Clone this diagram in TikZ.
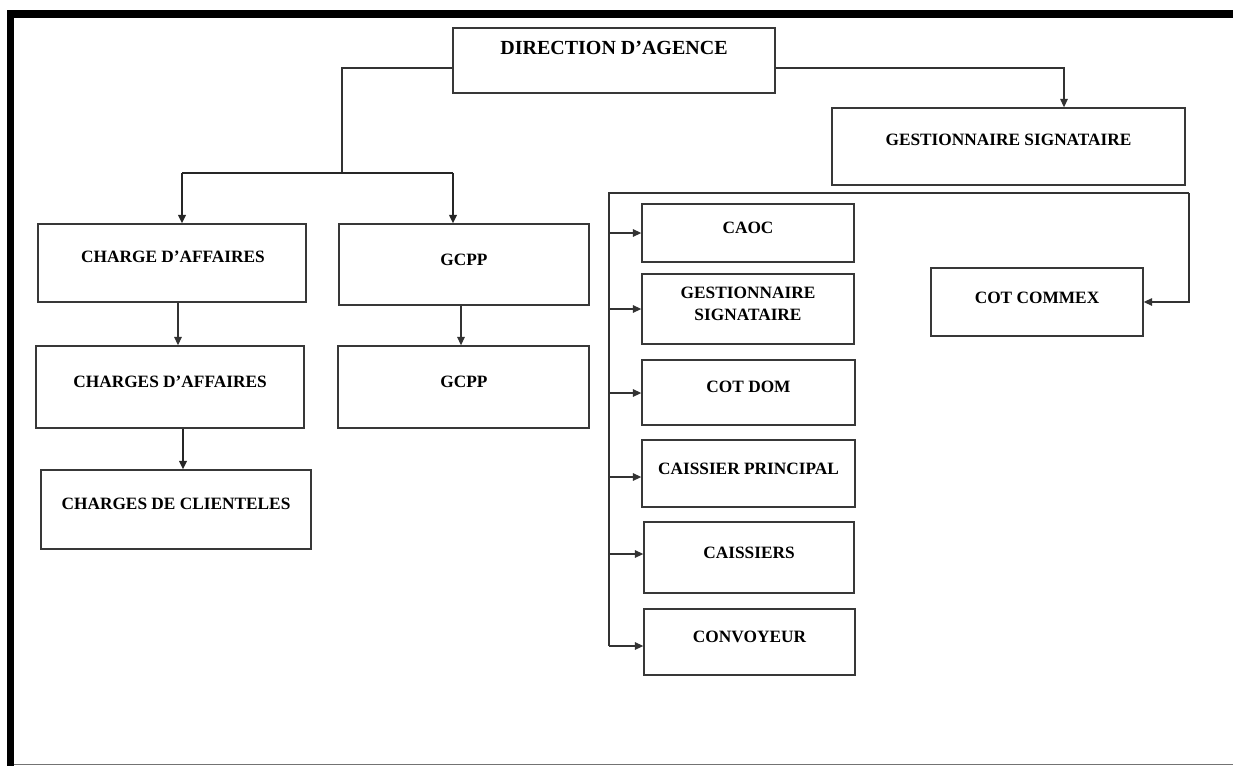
\documentclass[tikz,border=0pt]{standalone}
\usepackage{fontspec}
\setmainfont{Liberation Serif}
\usetikzlibrary{arrows.meta}
\begin{document}
\begin{tikzpicture}[x=1pt,y=-1pt,
  box/.style={draw=black!78, line width=1.3pt, rectangle, inner sep=0pt},
  lbl/.style={inner sep=0pt, align=center, font=\fontsize{17.3}{22}\selectfont\bfseries, text=black},
  conn/.style={draw=black!80, line width=1.4pt},
  thick conn/.style={draw=black!85, line width=2pt},
  tip/.style={-{Triangle[length=8.5pt,width=7.5pt]}}
]
\useasboundingbox (0,0) rectangle (1233,766);
% page frame
\fill[black] (7,10) rectangle (1233,18);
\fill[black] (7,10) rectangle (14,766);
\draw[black!55, line width=1.5pt] (14,764.5) -- (1233,764.5);

% boxes
\node[box, minimum width=322, minimum height=65] (dir) at (614,60.5) {};
\node[box, minimum width=353, minimum height=77] (gs) at (1008.5,146.5) {};
\node[box, minimum width=268, minimum height=78] (ca) at (172,263) {};
\node[box, minimum width=250, minimum height=81] (gcppa) at (464,264.5) {};
\node[box, minimum width=268, minimum height=82] (cda) at (170,387) {};
\node[box, minimum width=251, minimum height=82] (gcppb) at (463.5,387) {};
\node[box, minimum width=270, minimum height=79] (cdc) at (176,509.5) {};
\node[box, minimum width=212, minimum height=58] (caoc) at (748,233) {};
\node[box, minimum width=212, minimum height=70] (gsb) at (748,309) {};
\node[box, minimum width=213, minimum height=65] (cotdom) at (748.5,392.5) {};
\node[box, minimum width=213, minimum height=67] (cp) at (748.5,473.5) {};
\node[box, minimum width=210, minimum height=71] (cais) at (749,557.5) {};
\node[box, minimum width=211, minimum height=66] (conv) at (749.5,642) {};
\node[box, minimum width=212, minimum height=68] (cotc) at (1037,302) {};

% labels
\node[lbl, font=\fontsize{20}{24}\selectfont\bfseries] (dir-t) at (614,48) {DIRECTION D’AGENCE};
\node[lbl] (gs-t) at (1008.5,140) {GESTIONNAIRE SIGNATAIRE};
\node[lbl] (ca-t) at (173,257) {CHARGE D’AFFAIRES};
\node[lbl] (gcppa-t) at (464,260) {GCPP};
\node[lbl] (cda-t) at (170,382) {CHARGES D’AFFAIRES};
\node[lbl] (gcppb-t) at (464,382) {GCPP};
\node[lbl] (cdc-t) at (176,504) {CHARGES DE CLIENTELES};
\node[lbl] (caoc-t) at (748,228) {CAOC};
\node[lbl] (gsb-t) at (748,304) {GESTIONNAIRE\\SIGNATAIRE};
\node[lbl] (cotdom-t) at (748.5,387) {COT DOM};
\node[lbl] (cp-t) at (748.5,469) {CAISSIER PRINCIPAL};
\node[lbl] (cais-t) at (749,553) {CAISSIERS};
\node[lbl] (conv-t) at (749.5,637) {CONVOYEUR};
\node[lbl] (cotc-t) at (1037,298) {COT COMMEX};

% junction points
\coordinate (jl) at (342,173);
\coordinate (jr) at (609,193);
\coordinate (jrr) at (1189,193);

% direction to the left branch
\draw[conn] (dir.west |- 0,68) -- (jl |- 0,68) -- (jl);
\draw[thick conn] (182,173) -- (453,173);
\draw[thick conn, tip] (182,173) -- (ca.north -| 182,0);
\draw[thick conn, tip] (453,173) -- (gcppa.north -| 453,0);

% direction to the signatory manager
\draw[conn, tip] (dir.east |- 0,68) -- (1064,68) -- (gs.north -| 1064,0);

% left columns
\draw[conn, tip] (ca.south -| 178,0) -- (cda.north -| 178,0);
\draw[thick conn, tip] (cda.south -| 183,0) -- (cdc.north -| 183,0);
\draw[conn, tip] (gcppa.south -| 461,0) -- (gcppb.north -| 461,0);

% right bracket
\draw[conn] (jr |- 0,646) -- (jr) -- (jrr);
\draw[conn, tip] (jrr) -- (jrr |- cotc.east) -- (cotc.east);
\draw[conn, tip] (jr |- caoc.east) -- (caoc.west);
\draw[conn, tip] (jr |- gsb.east) -- (gsb.west);
\draw[conn, tip] (609,393) -- (cotdom.west |- 0,393);
\draw[conn, tip] (609,477) -- (cp.west |- 0,477);
\draw[conn, tip] (609,554) -- (cais.west |- 0,554);
\draw[conn, tip] (609,646) -- (conv.west |- 0,646);
\end{tikzpicture}
\end{document}
